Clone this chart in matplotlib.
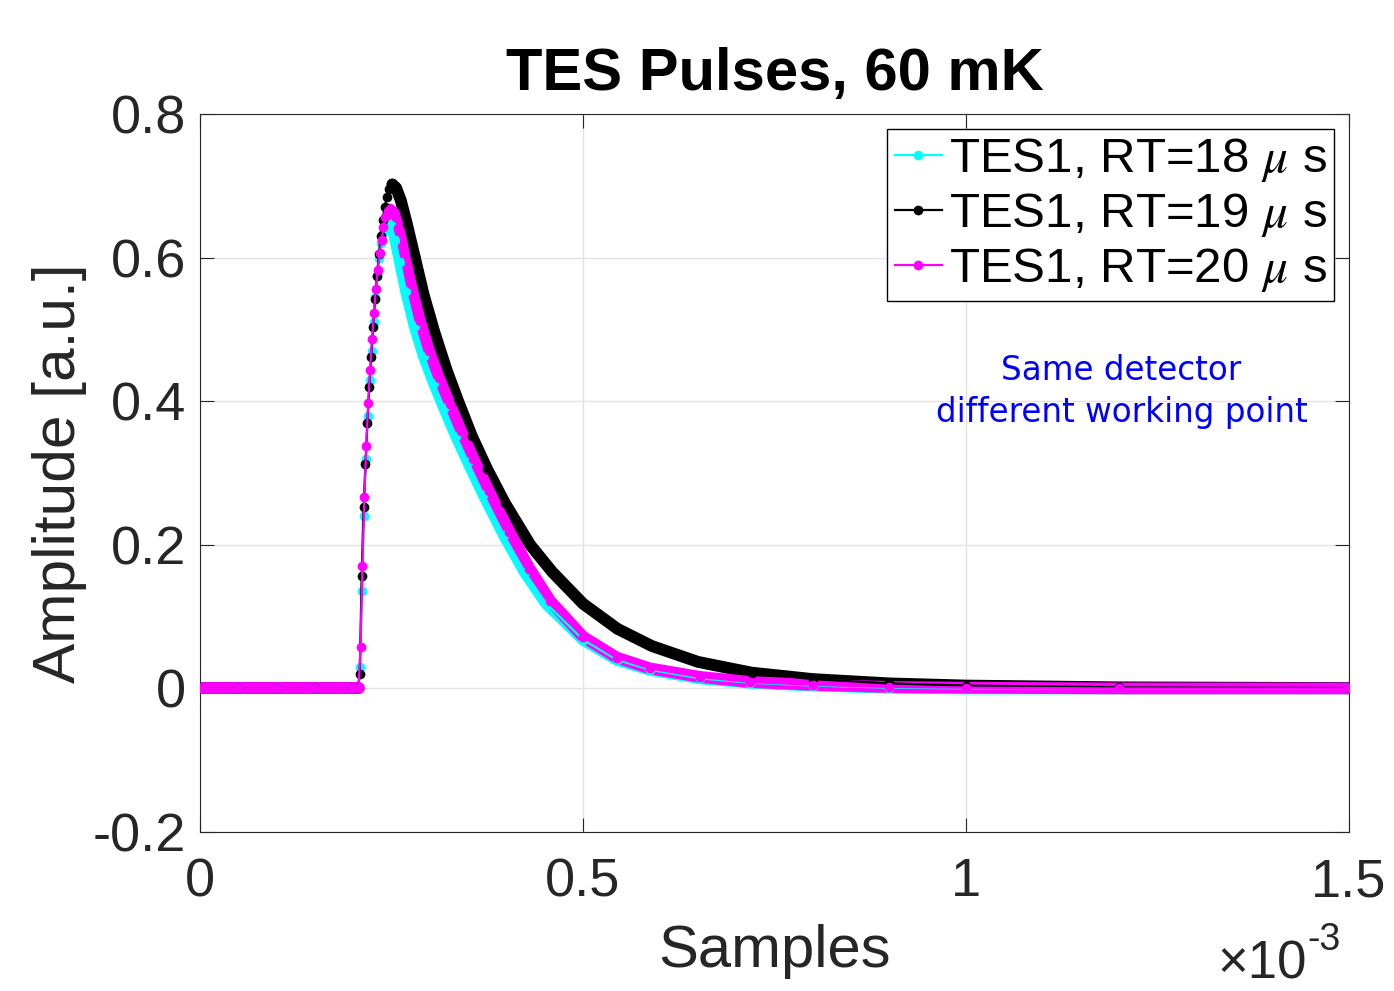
import numpy as np
import matplotlib
matplotlib.use('Agg')
import matplotlib.pyplot as plt

plt.rcParams['font.family'] = ['Liberation Sans', 'DejaVu Sans']
plt.rcParams['mathtext.fontset'] = 'stix'
plt.rcParams['axes.unicode_minus'] = False

# time in ms (axis shown as x10^-3 s), amplitude in a.u.
t_18 = [0.0, 0.05, 0.10, 0.15, 0.20, 0.2065,
        0.2090, 0.2115, 0.2140, 0.2165, 0.2190, 0.2215, 0.2240, 0.2265, 0.2290,
        0.2315, 0.2340, 0.2365, 0.2390, 0.2420, 0.2460,
        0.2500, 0.2550, 0.2610, 0.2690, 0.2800, 0.2920, 0.3050, 0.3190, 0.3340,
        0.3500, 0.3700, 0.3970, 0.4240, 0.4520, 0.5000, 0.5440, 0.5870, 0.6530,
        0.7180, 0.8000, 0.9000, 1.0000, 1.2000, 1.5000]
a_18 = [0.0, 0.0, 0.0, 0.0, 0.0, 0.0,
        0.030, 0.135, 0.240, 0.320, 0.380, 0.430, 0.470, 0.510, 0.545,
        0.575, 0.600, 0.620, 0.635, 0.645, 0.648,
        0.644, 0.625, 0.594, 0.553, 0.505, 0.463, 0.426, 0.390, 0.352,
        0.315, 0.270, 0.213, 0.162, 0.118, 0.068, 0.040, 0.026, 0.014,
        0.008, 0.004, 0.001, 0.0, 0.0, 0.0]

t_19 = [0.0, 0.05, 0.10, 0.15, 0.20, 0.2060,
        0.2085, 0.2110, 0.2135, 0.2160, 0.2185, 0.2210, 0.2235, 0.2260, 0.2285,
        0.2310, 0.2335, 0.2360, 0.2385, 0.2410, 0.2440, 0.2470, 0.2510,
        0.2560, 0.2620, 0.2700, 0.2800, 0.2920, 0.3060, 0.3220, 0.3370, 0.3550,
        0.3750, 0.3980, 0.4310, 0.4600, 0.5000, 0.5450, 0.5900, 0.6500, 0.7200,
        0.8000, 0.9000, 1.0000, 1.2000, 1.5000]
a_19 = [0.0, 0.0, 0.0, 0.0, 0.0, 0.0,
        0.020, 0.156, 0.252, 0.312, 0.370, 0.420, 0.462, 0.504, 0.542,
        0.575, 0.605, 0.630, 0.652, 0.670, 0.685, 0.696, 0.702,
        0.697, 0.680, 0.647, 0.602, 0.548, 0.496, 0.443, 0.400, 0.351,
        0.305, 0.258, 0.200, 0.162, 0.118, 0.083, 0.059, 0.037, 0.022,
        0.013, 0.007, 0.004, 0.0015, 0.0005]

t_20 = [0.0, 0.05, 0.10, 0.15, 0.20, 0.2070,
        0.2095, 0.2120, 0.2145, 0.2170, 0.2195, 0.2220, 0.2245, 0.2270, 0.2295,
        0.2320, 0.2345, 0.2370, 0.2395, 0.2420, 0.2450, 0.2480,
        0.2530, 0.2590, 0.2660, 0.2750, 0.2870, 0.2990, 0.3120, 0.3260, 0.3410,
        0.3570, 0.3770, 0.4040, 0.4300, 0.4570, 0.5000, 0.5440, 0.5870, 0.6530,
        0.7180, 0.8000, 0.9000, 1.0000, 1.2000, 1.5000]
a_20 = [0.0, 0.0, 0.0, 0.0, 0.0, 0.0,
        0.058, 0.170, 0.267, 0.338, 0.398, 0.444, 0.486, 0.523, 0.556,
        0.583, 0.607, 0.625, 0.643, 0.657, 0.665, 0.667,
        0.662, 0.641, 0.607, 0.563, 0.512, 0.470, 0.432, 0.396, 0.358,
        0.320, 0.275, 0.218, 0.167, 0.122, 0.072, 0.043, 0.028, 0.016,
        0.009, 0.005, 0.002, 0.001, 0.0, 0.0]

labels = ['TES1, RT=18 $\\mu$ s', 'TES1, RT=19 $\\mu$ s', 'TES1, RT=20 $\\mu$ s']
colors = ['#00ffff', '#000000', '#ff00ff']

x_ticks = [0, 0.5e-3, 1.0e-3, 1.5e-3]
x_labels = ['0', '0.5', '1', '1.5']
y_ticks = [-0.2, 0, 0.2, 0.4, 0.6, 0.8]
y_labels = ['-0.2', '0', '0.2', '0.4', '0.6', '0.8']


def main():
    fig = plt.figure(figsize=(13.94, 9.91), dpi=100)
    ax = fig.add_axes([0.1435, 0.1604, 0.8242, 0.7246])

    series = [(t_18, a_18), (t_19, a_19), (t_20, a_20)]
    for (t, a), lab, c in zip(series, labels, colors):
        t = np.array(t) * 1e-3
        a = np.array(a)
        i0 = np.argmax(a > 0) - 1
        ip = np.argmax(a)
        # dense samples look like a thick band on the flat parts
        ax.plot(t[:i0 + 1], a[:i0 + 1], '-', color=c, lw=8.5,
                solid_capstyle='round', zorder=2)
        ax.plot(t[ip:], a[ip:], '-', color=c, lw=8.5,
                solid_capstyle='round', solid_joinstyle='round', zorder=2)
        ax.plot(t, a, '-', color=c, lw=1.6, marker='o', markersize=7,
                markeredgewidth=0, label=lab, zorder=3)

    ax.set_xlim(0, 1.5e-3)
    ax.set_ylim(-0.2, 0.8)
    ax.set_xticks(x_ticks)
    ax.set_xticklabels(x_labels)
    ax.set_yticks(y_ticks)
    ax.set_yticklabels(y_labels)
    ax.tick_params(direction='in', length=10, width=0.8, top=True, right=True,
                   labelsize=39, colors='#262626')
    ax.tick_params(axis='x', pad=18)
    ax.tick_params(axis='y', pad=10)
    ax.grid(True, color='#e3e3e3', lw=1)
    ax.set_axisbelow(True)
    for s in ax.spines.values():
        s.set_color('#262626')
        s.set_linewidth(0.8)

    ax.set_title('TES Pulses, 60 mK', fontsize=43, fontweight='bold', pad=17)
    ax.set_xlabel('Samples', fontsize=43, color='#262626', labelpad=12)
    ax.set_ylabel('Amplitude [a.u.]', fontsize=43.5, color='#262626', labelpad=4)

    fig.text(0.9376, 0.0131, '\u00d710', fontsize=38, color='#262626',
             ha='right', va='baseline')
    fig.text(0.9376, 0.0414, '-3', fontsize=27, color='#262626',
             ha='left', va='baseline')

    leg = ax.legend(loc='upper right', fontsize=35.5, fancybox=False,
                    edgecolor='black', framealpha=1, handlelength=0.95,
                    handletextpad=0.15, labelspacing=0.14, borderpad=0.15,
                    borderaxespad=0.3)
    leg.get_frame().set_linewidth(1.0)

    ax.text(0.802, 0.6135, 'Same detector\ndifferent working point',
            transform=ax.transAxes, ha='center', va='center', color='blue',
            fontsize=23.5, family='DejaVu Sans', linespacing=1.35)

    fig.savefig('out.png', dpi=100)


if __name__ == "__main__":
    main()
